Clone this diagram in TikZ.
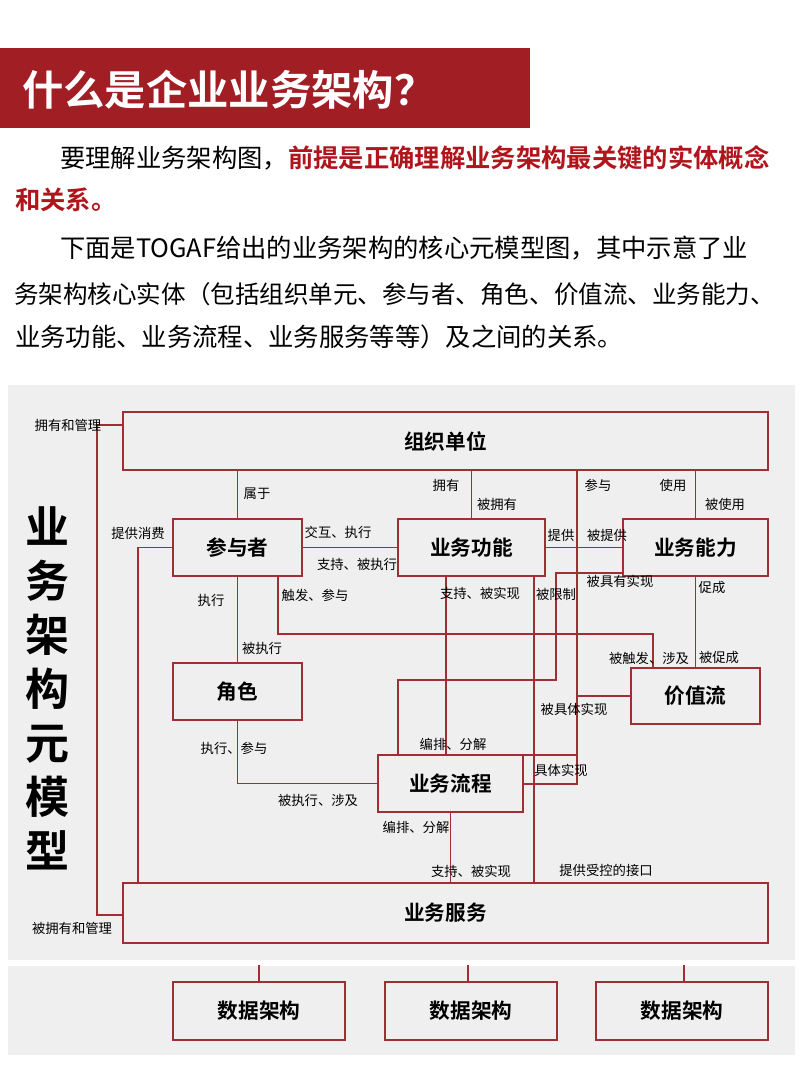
\documentclass[tikz,border=0pt]{standalone}
\usepackage{fontspec}
\setmainfont{Noto Sans CJK SC}[BoldFont={Noto Sans CJK SC Bold}]
\definecolor{ban}{HTML}{A11E24}
\definecolor{ln}{HTML}{9E3035}
\definecolor{bg}{HTML}{EFEFEF}
\definecolor{rt}{HTML}{B0151C}
\begin{document}
\begin{tikzpicture}[x=0.75pt,y=-0.75pt,
 box/.style={draw=ln,line width=0.9pt,fill=bg,font=\bfseries\fontsize{15.5}{18}\selectfont,inner sep=0pt},
 sbox/.style={box,minimum width=96.75pt,minimum height=42.75pt},
 lab/.style={font=\fontsize{10}{11}\selectfont,inner sep=0pt},
 con/.style={draw=ln,line width=0.9pt},
 para/.style={anchor=west,inner sep=0pt,font=\fontsize{19}{22}\selectfont}]
\useasboundingbox (0,0) rectangle (800,1067);
\fill[white] (0,0) rectangle (800,1067);
\fill[ban] (0,48) rectangle (530,128);
\node[anchor=west,text=white,inner sep=0pt,font=\bfseries\fontsize{31}{36}\selectfont] (title) at (22,90) {什么是企业业务架构？};
\node[para] (p1) at (60,158) {要理解业务架构图，\textcolor{rt}{\bfseries 前提是正确理解业务架构最关键的实体概念}};
\node[para] (p2) at (15,200) {\textcolor{rt}{\bfseries 和关系。}};
\node[para] (p3) at (60,248) {下面是TOGAF给出的业务架构的核心元模型图，其中示意了业};
\node[para,font=\fontsize{18.4}{22}\selectfont] (p4) at (14,294) {务架构核心实体（包括组织单元、参与者、角色、价值流、业务能力、};
\node[para] (p5) at (15,337) {业务功能、业务流程、业务服务等等）及之间的关系。};
\fill[bg] (8,385) rectangle (795,960);
\fill[bg] (8,966) rectangle (795,1055);
\node[inner sep=0pt,align=center,font=\bfseries\fontsize{33}{40.5}\selectfont] (vt) at (47,688) {业\\务\\架\\构\\元\\模\\型};
\node[box,minimum width=483.75pt,minimum height=43.5pt] (org) at (445.5,441) {组织单位};
\node[sbox] (pa) at (237.5,547.5) {参与者};
\node[sbox,minimum width=110.25pt] (fn) at (471.5,547.5) {业务功能};
\node[sbox,minimum width=108.75pt] (cap) at (695.5,547.5) {业务能力};
\node[sbox] (role) at (237.5,691.5) {角色};
\node[sbox,minimum height=42pt] (vs) at (695.5,696) {价值流};
\node[sbox,minimum width=108.75pt] (bp) at (450.5,783.5) {业务流程};
\node[box,minimum width=483.75pt,minimum height=45pt] (svc) at (445.5,913) {业务服务};
\node[box,minimum width=129pt,minimum height=43.5pt] (d1) at (259,1011) {数据架构};
\node[box,minimum width=129pt,minimum height=43.5pt] (d2) at (471,1011) {数据架构};
\node[box,minimum width=129pt,minimum height=43.5pt] (d3) at (682,1011) {数据架构};
\draw[con] (org.west |- 0,425) -- (97,425) -- (97,915) -- (svc.west |- 0,915);
\draw[con] (pa.west) -| (svc.north -| 138,0);
\draw[con] (org.south -| pa.north) -- (pa.north);
\draw[con] (pa.east) -- (fn.west);
\draw[con] (org.south -| fn.north) -- (fn.north);
\draw[con] (fn.east) -- (cap.west);
\draw[con] (org.south -| cap.north) -- (cap.north);
\draw[con] (org.south -| 577,0) -- (577,784) -- (bp.east |- 0,784);
\draw[con] (bp.east |- 0,755) -- (577,755);
\draw[con] (577,696) -- (vs.west);
\draw[con] (cap.west |- 0,573) -- (556,573) -- (556,680) -- (398,680) -- (bp.north -| 398,0);
\draw[con] (fn.south -| 446,0) -- (bp.north -| 446,0);
\draw[con] (fn.south -| 534,0) -- (svc.north -| 534,0);
\draw[con] (pa.south -| 278,0) -- (278,634) -- (653,634) -- (vs.north -| 653,0);
\draw[con] (cap.south) -- (vs.north);
\draw[con] (pa.south) -- (role.north);
\draw[con] (role.south) |- (bp.west);
\draw[con] (bp.south) -- (bp.south |- svc.north);
\draw[con] (259,965) -- (d1.north);
\draw[con] (468,965) -- (d2.north -| 468,0);
\draw[con] (684,965) -- (d3.north -| 684,0);
\node[lab] (l1) at (68,425) {拥有和管理};
\node[lab] (l2) at (72,928) {被拥有和管理};
\node[lab] (l3) at (257,494) {属于};
\node[lab] (l4) at (138,533) {提供消费};
\node[lab] (l5) at (338,532) {交互、执行};
\node[lab] (l6) at (357,564) {支持、被执行};
\node[lab] (l7) at (446,485) {拥有};
\node[lab] (l8) at (497,504) {被拥有};
\node[lab] (l9) at (598,485) {参与};
\node[lab] (l10) at (673,485) {使用};
\node[lab] (l11) at (725,504) {被使用};
\node[lab] (l12) at (561,535) {提供};
\node[lab] (l13) at (607,535) {被提供};
\node[lab] (l14) at (620,581) {被具有实现};
\node[lab] (l15) at (712,587) {促成};
\node[lab] (l16) at (211,600) {执行};
\node[lab] (l17) at (315,595) {触发、参与};
\node[lab] (l18) at (480,593) {支持、被实现};
\node[lab] (l19) at (556,594) {被限制};
\node[lab] (l20) at (262,648) {被执行};
\node[lab] (l21) at (649,658) {被触发、涉及};
\node[lab] (l22) at (719,657) {被促成};
\node[lab] (l23) at (574,709) {被具体实现};
\node[lab] (l24) at (234,748) {执行、参与};
\node[lab] (l25) at (453,744) {编排、分解};
\node[lab] (l26) at (561,770) {具体实现};
\node[lab] (l27) at (318,800) {被执行、涉及};
\node[lab] (l28) at (416,827) {编排、分解};
\node[lab] (l29) at (471,871) {支持、被实现};
\node[lab] (l30) at (606,870) {提供受控的接口};
\end{tikzpicture}
\end{document}
